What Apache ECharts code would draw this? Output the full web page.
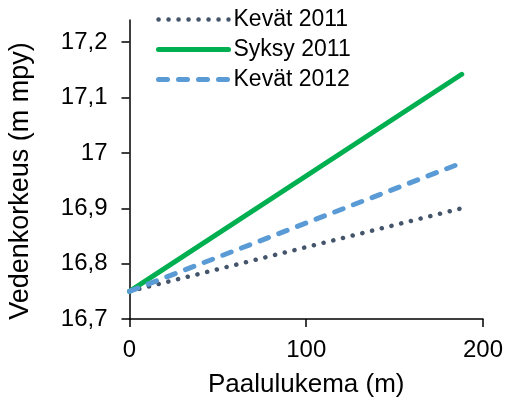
<!DOCTYPE html>
<html>
<head>
<meta charset="utf-8">
<script src="https://cdn.jsdelivr.net/npm/echarts@6/dist/echarts.min.js"></script>
<style>
html,body{margin:0;padding:0;background:#fff;}
#c{width:506px;height:404px;}
</style>
</head>
<body>
<div id="c"></div>
<script>
const xValues = [0, 188];
const kevat2011 = [16.75, 16.90];
const syksy2011 = [16.75, 17.142];
const kevat2012 = [16.75, 16.982];
const seriesNames = ['Kevät 2011', 'Syksy 2011', 'Kevät 2012'];
const yTicks = [16.7, 16.8, 16.9, 17.0, 17.1, 17.2];
const xTicks = [0, 100, 200];
const xTitle = 'Paalulukema (m)';
const yTitle = 'Vedenkorkeus (m mpy)';

const FONT = '"Liberation Sans", Arial, sans-serif';
const pairs = arr => xValues.map((x, i) => [x, arr[i]]);
const fmt = v => String(Math.round(v * 10) / 10).replace('.', ',');

const styles = [
  {color: '#44546A', width: 4.5, type: [0.1, 9.9], cap: 'round'},
  {color: '#00B050', width: 5, type: 'solid', cap: 'round'},
  {color: '#5B9BD5', width: 5, type: [9, 11], cap: 'round'}
];
const dataArrays = [kevat2011, syksy2011, kevat2012];

const chart = echarts.init(document.getElementById('c'), null, {renderer: 'canvas'});
chart.setOption({
  animation: false,
  backgroundColor: '#fff',
  grid: {left: 129.5, right: 23, top: 20, bottom: 85, containLabel: false},
  legend: {
    orient: 'vertical', left: 156, top: 8, padding: 0,
    itemWidth: 70, itemHeight: 14, itemGap: 7,
    itemStyle: {opacity: 0},
    textStyle: {fontFamily: FONT, fontSize: 23, color: '#000'},
    data: seriesNames.map((n, i) => ({name: n, lineStyle: Object.assign({}, styles[i])}))
  },
  xAxis: {
    type: 'value', min: 0, max: 200, interval: 100,
    name: xTitle, nameLocation: 'middle', nameGap: 53,
    nameTextStyle: {fontFamily: FONT, fontSize: 26, color: '#000'},
    axisLine: {lineStyle: {color: '#000', width: 1.5}},
    axisTick: {show: true, length: 8, lineStyle: {color: '#000', width: 1.5}, customValues: xTicks},
    axisLabel: {fontFamily: FONT, fontSize: 24, color: '#000', margin: 19, customValues: xTicks},
    splitLine: {show: false}
  },
  yAxis: {
    type: 'value', min: 16.7, max: 17.24,
    axisLine: {show: true, lineStyle: {color: '#000', width: 1.5}},
    axisTick: {show: true, length: 8, lineStyle: {color: '#000', width: 1.5}, customValues: yTicks},
    axisLabel: {fontFamily: FONT, fontSize: 24, color: '#000', margin: 22, customValues: yTicks, formatter: fmt},
    splitLine: {show: false}
  },
  graphic: [{
    type: 'text', x: 21, y: 181, rotation: Math.PI / 2,
    style: {text: yTitle, fontFamily: FONT, fontSize: 27, fill: '#000', align: 'center', verticalAlign: 'middle'}
  }],
  series: seriesNames.map((n, i) => ({
    name: n, type: 'line', data: pairs(dataArrays[i]), symbol: 'none',
    lineStyle: styles[i], itemStyle: {color: styles[i].color}
  }))
});
</script>
</body>
</html>
